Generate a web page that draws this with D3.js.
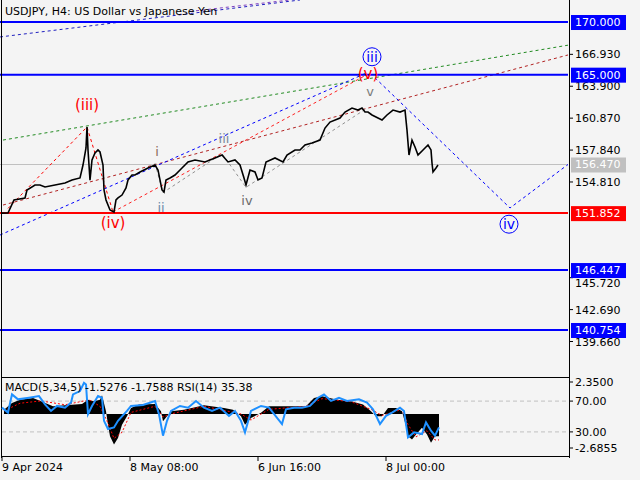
<!DOCTYPE html><html><head><meta charset="utf-8">
<script src="https://cdn.jsdelivr.net/npm/d3@7"></script>
<style>body{margin:0;background:#f4f4f4}svg{font-family:"DejaVu Sans",sans-serif}</style></head><body>
<svg id="c" width="640" height="480"></svg>
<script>
// price series (bar position, price)
const barX=[2,8,14,25,27,35,40,45,55,65,72,80,83,86,87,88,90,92,95,98,100,103,104,106,110,114,116,118,122,126,128,132,135,140,148,155,158,162,164,166,170,175,182,188,195,205,215,222,228,235,240,244,246,250,255,258,262,266,275,283,287,295,300,305,312,320,325,330,340,345,352,358,362,365,368,372,378,382,387,393,400,405,407,409,412,415,418,425,428,431,432,433,436,438];
const closes=[151.85,151.86,153.10,153.29,154.05,154.52,154.52,154.33,154.52,154.71,154.99,155.19,156.42,158.04,160.03,157.85,154.99,156.90,157.56,157.85,157.66,156.42,154.05,153.10,152.15,151.96,153.10,153.29,153.57,154.24,155.0,155.47,155.47,155.76,156.14,156.42,155.95,154.05,153.86,155.0,155.19,155.47,156.14,156.71,156.90,156.71,157.09,157.37,156.71,156.90,156.42,155.19,154.52,155.95,155.76,155.0,155.19,156.71,157.09,156.71,157.37,157.85,157.85,158.32,158.51,158.79,159.93,160.50,160.88,161.45,161.83,161.64,161.83,161.45,161.45,161.17,160.88,160.69,161.17,161.64,161.45,161.64,159.74,157.37,158.79,158.13,157.37,158.04,158.32,157.85,156.61,155.76,156.14,156.42];
const levels=[170.000,165.000,151.852,146.447,140.754];
const levelColors=["#0000ff","#0000ff","#ff0000","#0000ff","#0000ff"];
const lastPrice=156.470;
const priceTicks=["166.930","163.900","160.870","157.840","154.810","145.720","142.690","139.660"];
const dateTicks=[2,130,258,386];
const dateLabels=["9 Apr 2024","8 May 08:00","6 Jun 16:00","8 Jul 00:00"];
// indicator series
const macdX=[4,12,20,33,41,53,65,82,88,94,100,102,106,108,110,114,118,122,127,131,139,155,161,163,167,171,184,204,224,233,241,245,251,261,269,278,286,306,314,322,334,339,351,363,371,376,382,388,396,402,406,408,412,416,422,427,431,435,439];
const macdVal=[0.28,0.72,0.93,1.04,0.83,0.50,0.57,0.65,0.93,0.83,0.93,1.22,0.17,-0.70,-1.46,-2.0,-1.57,-0.70,-0.15,0.39,0.61,0.65,0.17,-0.48,-0.15,0.17,0.28,0.57,0.39,0.28,-0.15,-0.70,-0.26,0.07,0.50,0.50,0.50,0.50,1.04,1.15,0.98,0.91,0.83,0.61,0.17,-0.15,-0.15,0.39,0.39,0.17,-0.80,-1.46,-1.67,-1.35,-0.91,-1.35,-1.89,-1.46,-1.46];
const rsiX=[2,8,12,18,29,39,45,51,57,65,71,73,80,84,86,88,92,98,102,104,108,114,118,127,131,143,155,159,163,167,171,180,188,196,204,212,220,229,235,241,245,251,261,269,282,286,294,302,310,318,324,331,339,347,359,367,373,380,386,392,400,404,408,414,422,426,431,435,439];
const rsiVal=[61.5,55.1,78.7,72.3,74.4,76.5,65.8,57.2,63.7,61.5,68.0,78.7,83.0,93.7,91.6,53.0,63.7,76.5,74.4,44.4,33.7,35.8,44.4,57.2,63.7,64.9,70.2,53.0,25.1,44.4,57.2,63.7,61.5,70.2,61.5,57.2,61.5,50.8,57.2,44.4,29.4,57.2,63.7,61.5,40.2,59.4,61.5,61.5,63.7,74.4,78.7,70.2,74.4,70.2,72.3,68.0,59.4,40.2,50.8,55.1,61.5,57.2,23.0,29.4,27.3,42.3,31.6,25.1,35.8];
const sigX=[4,20,41,65,84,90,100,108,114,122,131,155,163,171,204,241,251,269,306,322,351,371,382,402,408,416,427,435,439];
const sigVal=[0.2,0.7,0.85,0.6,0.85,0.9,0.5,-0.6,-1.6,-1.2,0.1,0.5,-0.2,0.0,0.5,0.0,-0.4,0.3,0.5,1.0,0.8,0.3,-0.1,0.3,-0.7,-1.5,-1.1,-1.7,-1.7];
// wave annotations (bar position, price)
const greenLine=[[3,158.79],[568,167.8]];
const brownLine=[[3,152.62],[568,166.87]];
const redWave=[[8,152.3],[87,160.03],[113,151.96]];
const redChannel=[[113,151.96],[365,164.9]];
const blueChannel=[[0,149.77],[365,165.1]];
const bluePath=[[375,164.7],[510,152.34],[568,156.47]];
const topBlue=[[0,168.58],[300,172.09]];
const topPurple=[[190,171.0],[290,172.09]];
const grayWave=[[155,156.6],[163,153.8],[222,157.5],[246,154.3],[365,161.7]];
const waveLabels=[
 {t:"(iii)",x:87,p:161.6,c:"#ff0000",s:15},{t:"(iv)",x:113,p:150.4,c:"#ff0000",s:15},
 {t:"(v)",x:368,p:164.6,c:"#ff0000",s:15},{t:"i",x:157,p:157.3,c:"#8a6a5a",s:13},
 {t:"ii",x:161,p:152.0,c:"#6a8caa",s:13},{t:"iii",x:224,p:158.5,c:"#7a8a9a",s:13},
 {t:"iv",x:247,p:152.6,c:"#6a6a6a",s:13},{t:"v",x:370,p:163.0,c:"#7a7a7a",s:13}];
const circLabels=[{t:"iii",x:372,p:166.7},{t:"iv",x:509,p:150.8}];

const svg=d3.select("#c");
svg.append("rect").attr("width",640).attr("height",480).attr("fill","#f4f4f4");
const x=d3.scaleLinear().domain([0,568]).range([0,568]);
const y=d3.scaleLinear().domain([136.48,172.09]).range([375,0]);
const ym=d3.scaleLinear().domain([-2.6855,2.35]).range([455,378]);
const yr=d3.scaleLinear().domain([0,100]).range([455,378]);
const main=svg.append("g");
main.append("line").attr("x1",0).attr("x2",568).attr("y1",y(lastPrice)).attr("y2",y(lastPrice)).attr("stroke","#c0c0c0");
const ln=d3.line().x(d=>x(d[0])).y(d=>y(d[1]));
function dl(pts,col,w){main.append("path").attr("d",ln(pts)).attr("fill","none").attr("stroke",col).attr("stroke-width",w||1).attr("stroke-dasharray","3,3");}
dl(greenLine,"#228b22");dl(brownLine,"#b22222");dl(redWave,"#ff0000");dl(redChannel,"#ff2020");
dl(blueChannel,"#0000ff");dl(bluePath,"#0000ff");dl(topBlue,"#2020c0");dl(topPurple,"#8040c0");dl(grayWave,"#909090");
levels.forEach((l,i)=>main.append("line").attr("x1",0).attr("x2",568).attr("y1",y(l)).attr("y2",y(l)).attr("stroke",levelColors[i]).attr("stroke-width",2));
main.append("path").datum(barX.map((b,i)=>[b,closes[i]])).attr("d",ln).attr("fill","none").attr("stroke","#000").attr("stroke-width",1.6);
waveLabels.forEach(d=>main.append("text").attr("x",x(d.x)).attr("y",y(d.p)).attr("text-anchor","middle").attr("fill",d.c).attr("font-size",d.s).text(d.t));
circLabels.forEach(d=>{main.append("circle").attr("cx",x(d.x)).attr("cy",y(d.p)).attr("r",9).attr("fill","none").attr("stroke","#0000ff");
 main.append("text").attr("x",x(d.x)).attr("y",y(d.p)+5).attr("text-anchor","middle").attr("fill","#0000ff").attr("font-size",14).text(d.t);});
// axes
svg.append("line").attr("x1",569.5).attr("x2",569.5).attr("y1",0).attr("y2",458).attr("stroke","#000");
svg.append("line").attr("x1",1.5).attr("x2",1.5).attr("y1",0).attr("y2",458).attr("stroke","#000");
priceTicks.forEach(t=>{const yy=y(+t);svg.append("line").attr("x1",569).attr("x2",573).attr("y1",yy).attr("y2",yy).attr("stroke","#000");
 svg.append("text").attr("x",575).attr("y",yy+(t==="145.720"?9:4)).attr("font-size",11).text(t);});
function tag(v,bg,fg){const yy=y(v);svg.append("rect").attr("x",571).attr("y",yy-7).attr("width",55).attr("height",15).attr("fill",bg);
 svg.append("text").attr("x",575).attr("y",yy+4).attr("font-size",11).attr("fill",fg).text(v.toFixed(3));}
levels.forEach((l,i)=>tag(l,levelColors[i],"#fff"));
tag(lastPrice,"#c0c0c0","#fff");
svg.append("text").attr("x",5).attr("y",15).attr("font-size",11).text("USDJPY, H4:  US Dollar vs Japanese Yen");
// indicator panel
svg.append("rect").attr("x",1.5).attr("y",377.5).attr("width",568).attr("height",79).attr("fill","none").attr("stroke","#000");
[70,30].forEach(v=>svg.append("line").attr("x1",2).attr("x2",568).attr("y1",yr(v)).attr("y2",yr(v)).attr("stroke","#c0c0c0").attr("stroke-dasharray","4,3"));
svg.append("path").attr("d",d3.area().x(d=>x(d[0])).y0(ym(0)).y1(d=>ym(d[1]))(macdX.map((b,i)=>[b,macdVal[i]]))).attr("fill","#000");
svg.append("path").attr("d",d3.line().x(d=>x(d[0])).y(d=>ym(d[1]))(sigX.map((b,i)=>[b,sigVal[i]]))).attr("fill","none").attr("stroke","#ff0000").attr("stroke-dasharray","2,2");
svg.append("path").attr("d",d3.line().x(d=>x(d[0])).y(d=>yr(d[1]))(rsiX.map((b,i)=>[b,rsiVal[i]]))).attr("fill","none").attr("stroke","#1e90ff").attr("stroke-width",2);
svg.append("text").attr("x",5).attr("y",391).attr("font-size",11).text("MACD(5,34,5) -1.5276 -1.7588 RSI(14) 35.38");
[["2.3500",ym(2.35)+8],["70.00",yr(70)+4],["30.00",yr(30)+4],["-2.6855",ym(-2.6855)-3]].forEach(d=>{
 svg.append("line").attr("x1",569).attr("x2",573).attr("y1",d[1]-4).attr("y2",d[1]-4).attr("stroke","#000");
 svg.append("text").attr("x",575).attr("y",d[1]).attr("font-size",11).text(d[0]);});
dateTicks.forEach((d,i)=>{svg.append("line").attr("x1",x(d)).attr("x2",x(d)).attr("y1",456).attr("y2",461).attr("stroke","#000");
 svg.append("text").attr("x",x(d)).attr("y",471).attr("font-size",11).text(dateLabels[i]);});
</script></body></html>
